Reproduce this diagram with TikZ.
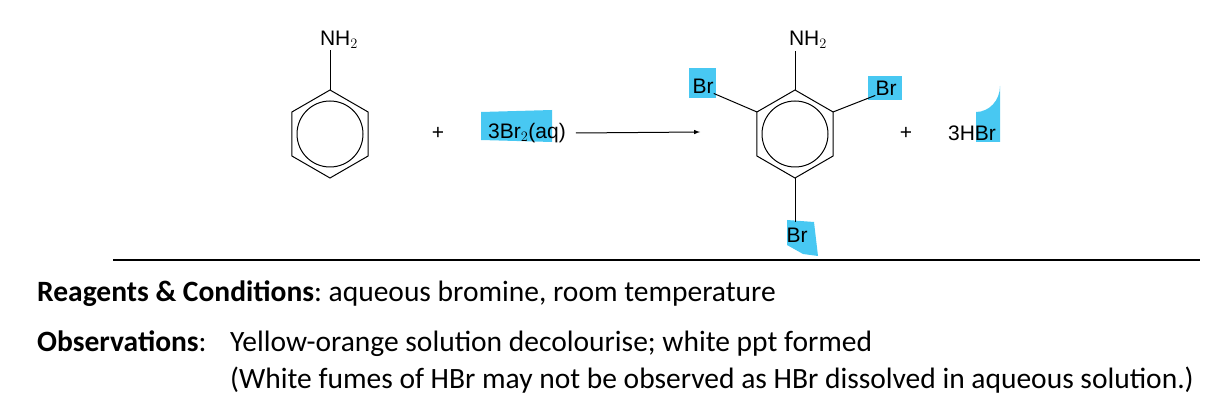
\documentclass[tikz,border=0pt]{standalone}
\usepackage{fontspec}
\setmainfont{Carlito}
\newfontfamily\chemfont{Liberation Sans}
\definecolor{hl}{RGB}{72,200,242}
\begin{document}
\begin{tikzpicture}[x=1pt,y=-1pt,
  chem/.style={font=\chemfont\fontsize{21}{24}\selectfont,inner sep=0pt},
  bond/.style={line width=1pt},
  body/.style={font=\fontsize{29.5}{34}\selectfont,anchor=base west,inner sep=0pt}]
\useasboundingbox (0,0) rectangle (1226,414);
% highlights
\fill[hl] (481,112) -- (552,110) -- (552,142) -- (481,140) -- cycle;
\fill[hl] (689,68) rectangle (716,98);
\fill[hl] (868,76) rectangle (902,100);
\fill[hl] (787,220) -- (814,222) -- (818,256) -- (803,254) -- (787,245) -- cycle;
\fill[hl] (976,112) arc (90:0:24 and 26) -- (1000,142) -- (976,142) -- cycle;
% aniline
\draw[bond] (330,134) +(90:44) -- +(150:44) -- +(210:44) -- +(270:44) -- +(330:44) -- +(30:44) -- cycle;
\draw[bond] (330,134) circle (33);
\node[chem] (n1) at (339,40) {NH$_2$};
\coordinate (c1) at (330,90);
\draw[bond] (c1) -- (330,50);
% plus + reagent
\node[chem] (p1) at (438,133) {+};
\node[chem] (r) at (527,133) {3Br$_2$(aq)};
\coordinate (ae) at (700,132);
\draw[bond,-latex] (r.east) ++(10,0) -- (ae);
% product
\draw[bond] (795,134) +(90:44) -- +(150:44) -- +(210:44) -- +(270:44) -- +(330:44) -- +(30:44) -- cycle;
\draw[bond] (795,134) circle (33);
\node[chem] (n2) at (808,40) {NH$_2$};
\draw[bond] (795,90) -- (795,51);
\node[chem] (b1) at (703,86) {Br};
\node[chem] (b2) at (886,88) {Br};
\node[chem] (b3) at (797,235) {Br};
\draw[bond] (757,112) -- (b1.south east);
\draw[bond] (833,112) -- (b2.south west);
\draw[bond] (795,178) -- (795,222);
\node[chem] (p2) at (906,133) {+};
\node[chem] (h) at (972,133) {3HBr};
% rule
\draw[line width=1.2pt] (113,260) -- (1200,260);
\node[body] (t1) at (37,301) {\textbf{Reagents \& Conditions}:\ aqueous bromine, room temperature};
\node[body] (t2) at (37,351) {\textbf{Observations}:};
\node[body] (t3) at (230,351) {Yellow-orange solution decolourise; white ppt formed};
\node[body] (t4) at (230,388) {(White fumes of HBr may not be observed as HBr dissolved in aqueous solution.)};
\end{tikzpicture}
\end{document}
